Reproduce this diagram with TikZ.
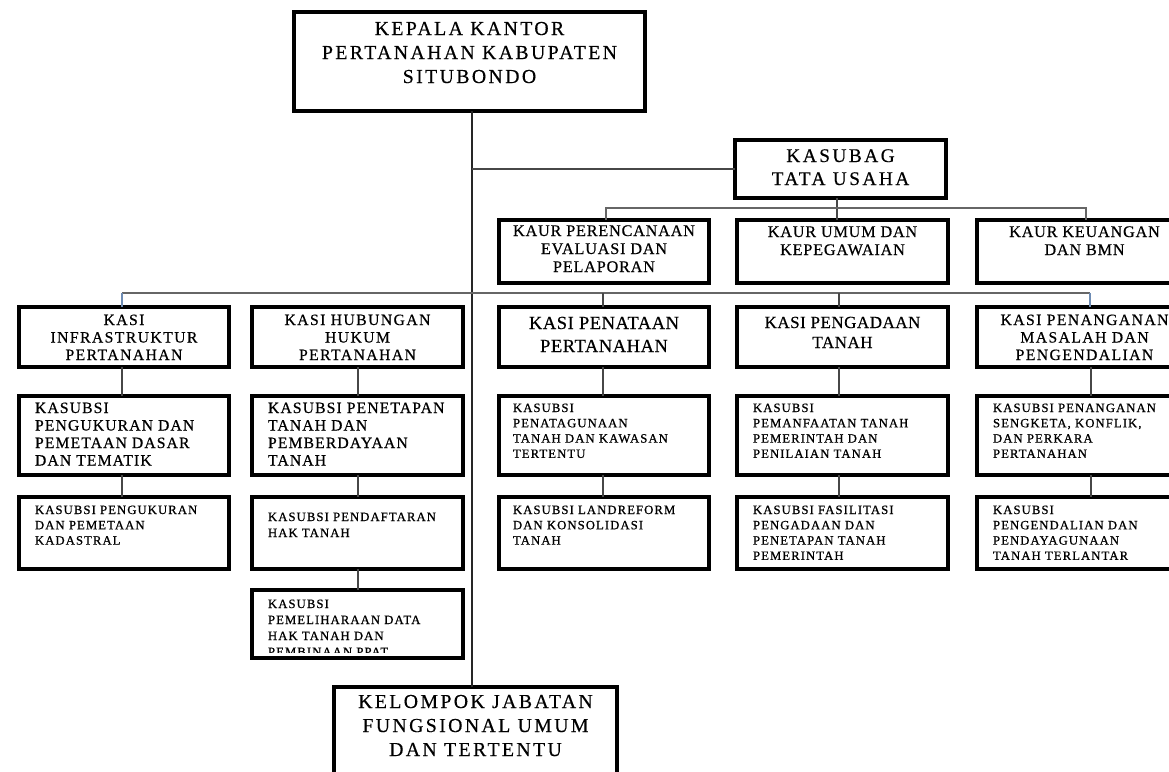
\documentclass[tikz,border=0pt]{standalone}
\usepackage{fontspec}
\setmainfont{Liberation Serif}
\newfontfamily\fA[LetterSpace=12,FakeBold=0.4]{Liberation Serif}
\newfontfamily\fB[LetterSpace=13,FakeBold=0.4]{Liberation Serif}
\newfontfamily\fC[LetterSpace=5,FakeBold=0.5]{Liberation Serif}
\newfontfamily\fD[LetterSpace=9,FakeBold=0.5]{Liberation Serif}
\newfontfamily\fE[LetterSpace=3,FakeBold=0.4]{Liberation Serif}
\newfontfamily\fF[LetterSpace=7,FakeBold=0.5]{Liberation Serif}
\newfontfamily\fG[LetterSpace=8.5,FakeBold=0.8]{Liberation Serif}
% #1 width, #2 height, #3 font, #4 first baseline offset, #5 text
\newcommand\cbx[5]{\parbox[t][#2pt][t]{#1pt}{#3\centering\rule{0pt}{#4pt}#5\par}}
\newcommand\lbx[6]{\parbox[t][#2pt][t]{#1pt}{#3\raggedright\leftskip=#6pt\rule{0pt}{#4pt}#5\par}}
\newcommand\FA{\fA\fontsize{19.8}{24}\selectfont}
\newcommand\FB{\fB\fontsize{19.3}{23}\selectfont}
\newcommand\FC{\fC\fontsize{16.2}{18}\selectfont}
\newcommand\FD{\fD\fontsize{15.7}{17.5}\selectfont}
\newcommand\FEa{\fE\fontsize{18.5}{23}\selectfont}
\newcommand\FEb{\fE\fontsize{17}{20}\selectfont}
\newcommand\FF{\fF\fontsize{15.7}{17.5}\selectfont}
\newcommand\FG{\fG\fontsize{12.7}{15.3}\selectfont}
\newcommand\FGb{\fG\fontsize{12.7}{16}\selectfont}
\newcommand\FGc{\fG\fontsize{12.7}{16}\selectfont}
\tikzset{
  box/.style={draw=black, line width=3.6pt, fill=white, inner sep=0pt, outer sep=0pt, anchor=north west},
  conn/.style={line width=1.3pt, draw=black!72},
  trunkline/.style={line width=1.5pt, draw=black!85},
  bar/.style={line width=1.3pt, draw=black!60},
  drop/.style={line width=1.3pt, draw={rgb,255:red,110;green,140;blue,180}}
}
\begin{document}
\begin{tikzpicture}[x=1pt,y=-1pt]
\useasboundingbox (0,0) rectangle (1169,771);
\fill[white] (0,0) rectangle (1169,771);
\clip (0,0) rectangle (1169,771);

% top levels
\node[box] (top) at (294,12) {\cbx{351}{99}{\FA}{23}{KEPALA KANTOR\\PERTANAHAN KABUPATEN\\SITUBONDO}};
\node[box] (ksb) at (735,140) {\cbx{211}{58}{\FB}{22}{KASUBAG\\TATA USAHA}};

% kaur row
\node[box] (kaurA) at (499,220) {\cbx{210}{63}{\FC}{16}{KAUR PERENCANAAN\\EVALUASI DAN\\PELAPORAN}};
\node[box] (kaurB) at (737,220) {\cbx{211}{63}{\FC}{17}{KAUR UMUM DAN\\KEPEGAWAIAN}};
\node[box] (kaurC) at (977,220) {\cbx{215}{63}{\FC}{17}{KAUR KEUANGAN\\DAN BMN}};

% kasi row
\node[box] (kasiA) at (19,307) {\cbx{210}{60}{\FD}{18}{KASI\\INFRASTRUKTUR\\PERTANAHAN}};
\node[box] (kasiB) at (252,307) {\cbx{211}{60}{\FD}{18}{KASI HUBUNGAN\\HUKUM\\PERTANAHAN}};
\node[box] (kasiC) at (499,307) {\cbx{210}{60}{\FEa}{22}{KASI PENATAAN\\PERTANAHAN}};
\node[box] (kasiD) at (737,307) {\cbx{211}{60}{\FEb}{21}{KASI PENGADAAN\\TANAH}};
\node[box] (kasiE) at (977,307) {\cbx{215}{60}{\FD}{18}{KASI PENANGANAN\\MASALAH DAN\\PENGENDALIAN}};

% kasubsi row 1
\node[box] (sbA1) at (19,396) {\lbx{210}{79}{\FF}{17}{KASUBSI\\PENGUKURAN DAN\\PEMETAAN DASAR\\DAN TEMATIK}{16}};
\node[box] (sbB1) at (252,396) {\lbx{211}{79}{\FF}{17}{KASUBSI PENETAPAN\\TANAH DAN\\PEMBERDAYAAN\\TANAH}{16}};
\node[box] (sbC1) at (499,396) {\lbx{210}{79}{\FG}{16}{KASUBSI\\PENATAGUNAAN\\TANAH DAN KAWASAN\\TERTENTU}{14}};
\node[box] (sbD1) at (737,396) {\lbx{211}{79}{\FG}{16}{KASUBSI\\PEMANFAATAN TANAH\\PEMERINTAH DAN\\PENILAIAN TANAH}{16}};
\node[box] (sbE1) at (977,396) {\lbx{215}{79}{\FG}{16}{KASUBSI PENANGANAN\\SENGKETA, KONFLIK,\\DAN PERKARA\\PERTANAHAN}{16}};

% kasubsi row 2
\node[box] (sbA2) at (19,497) {\lbx{210}{72}{\FG}{17}{KASUBSI PENGUKURAN\\DAN PEMETAAN\\KADASTRAL}{16}};
\node[box] (sbB2) at (252,497) {\lbx{211}{72}{\FGb}{24}{KASUBSI PENDAFTARAN\\HAK TANAH}{16}};
\node[box] (sbC2) at (499,497) {\lbx{210}{72}{\FG}{17}{KASUBSI LANDREFORM\\DAN KONSOLIDASI\\TANAH}{14}};
\node[box] (sbD2) at (737,497) {\lbx{211}{72}{\FG}{17}{KASUBSI FASILITASI\\PENGADAAN DAN\\PENETAPAN TANAH\\PEMERINTAH}{16}};
\node[box] (sbE2) at (977,497) {\lbx{215}{72}{\FG}{17}{KASUBSI\\PENGENDALIAN DAN\\PENDAYAGUNAAN\\TANAH TERLANTAR}{16}};

% kasubsi row 3 (text cut at the bottom)
\begin{scope}
\clip (240,580) rectangle (475,652);
\node[box] (sbB3) at (252,590) {\lbx{211}{68}{\FGc}{18}{KASUBSI\\PEMELIHARAAN DATA\\HAK TANAH DAN\\PEMBINAAN PPAT}{16}};
\end{scope}
\draw[line width=3.6pt] (sbB3.north west) rectangle (sbB3.south east);

% bottom box
\node[box] (klp) at (334,687) {\cbx{283}{120}{\FA}{21}{KELOMPOK JABATAN\\FUNGSIONAL UMUM\\DAN TERTENTU}};

% connector columns
\coordinate (trunk) at (472,0);
\coordinate (barK) at (0,208);
\coordinate (barS) at (0,293);
\coordinate (c1) at (122,0);
\coordinate (c2) at (358,0);
\coordinate (c3) at (603,0);
\coordinate (c4) at (839,0);
\coordinate (c5) at (1091,0);
\coordinate (k3) at (606,0);
\coordinate (k4) at (837,0);
\coordinate (k5) at (1086,0);
\coordinate (s5) at (1090,0);

% trunk and staff lines
\draw[trunkline] (top.south -| trunk) -- (klp.north -| trunk);
\draw[conn] (ksb.west -| trunk) -- (ksb.west);
\draw[conn] (ksb.south -| k4) -- (kaurB.north -| k4);
\draw[bar] (kaurA.north -| k3) -- (barK -| k3) -- (barK -| k5) -- (kaurC.north -| k5);

% section bar
\draw[bar] (barS -| c1) -- (barS -| s5);
\draw[drop] (barS -| c1) -- (kasiA.north -| c1);
\draw[conn] (barS -| c3) -- (kasiC.north -| c3);
\draw[conn] (barS -| c4) -- (kasiD.north -| c4);
\draw[drop] (barS -| s5) -- (kasiE.north -| s5);

% column connectors
\draw[conn] (kasiA.south -| c1) -- (sbA1.north -| c1);
\draw[conn] (sbA1.south -| c1) -- (sbA2.north -| c1);
\draw[conn] (kasiB.south -| c2) -- (sbB1.north -| c2);
\draw[conn] (sbB1.south -| c2) -- (sbB2.north -| c2);
\draw[conn] (sbB2.south -| c2) -- (sbB3.north -| c2);
\draw[conn] (kasiC.south -| c3) -- (sbC1.north -| c3);
\draw[conn] (sbC1.south -| c3) -- (sbC2.north -| c3);
\draw[conn] (kasiD.south -| c4) -- (sbD1.north -| c4);
\draw[conn] (sbD1.south -| c4) -- (sbD2.north -| c4);
\draw[conn] (kasiE.south -| c5) -- (sbE1.north -| c5);
\draw[conn] (sbE1.south -| c5) -- (sbE2.north -| c5);
\end{tikzpicture}
\end{document}
